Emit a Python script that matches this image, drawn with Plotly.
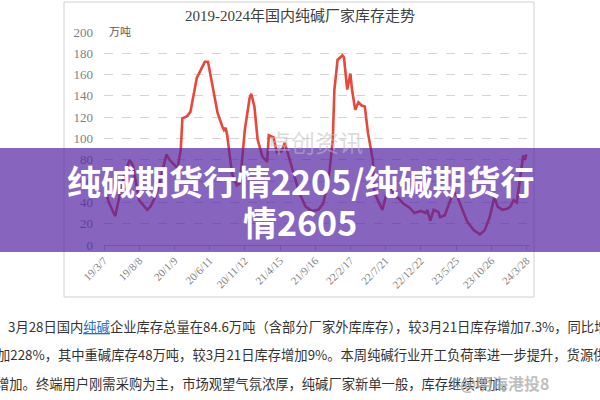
import plotly.graph_objects as go

# ---- data ----
tick_labels = ["19/3/7", "19/8/8", "20/1/9", "20/6/11", "20/11/12", "21/4/15", "21/9/16",
               "22/2/17", "22/7/21", "22/12/22", "23/5/25", "23/10/26", "24/3/28"]
tick_weeks = [0, 22, 44, 66, 88, 110, 132, 154, 176, 198, 220, 242, 264]

# week index since 2019-03-07 and factory inventory (10k tonnes)
weeks = [0, 3, 7, 9, 12, 16, 18, 22, 27, 29, 32, 35, 39, 41, 46, 48, 49, 52, 54, 58, 60, 63, 65,
         68, 71, 74, 75, 76, 77, 80, 83, 85, 88, 91, 92, 94, 96, 99, 102, 103, 106, 108, 111,
         113, 115, 118, 122, 126, 130, 134, 137, 139, 141, 143, 144, 146, 149, 150, 152, 154,
         155, 157, 159, 161, 163, 165, 168, 169, 171, 174, 176, 178, 180, 182, 184, 187, 191,
         194, 198, 201, 202, 204, 206, 209, 210, 213, 215, 217, 219, 221, 224, 227, 231, 235,
         238, 241, 244, 246, 249, 252, 254, 256, 258, 260, 262, 263, 264]
inventory = [57, 40, 27, 40, 62, 80, 75, 42, 33, 36, 45, 60, 85, 80, 72, 90, 119, 121, 125, 157,
             163, 172, 172, 148, 124, 111, 108, 110, 103, 67, 56, 58, 108, 138, 142, 130, 99, 83,
             78, 103, 101, 87, 88, 96, 86, 70, 49, 36, 32, 33, 39, 52, 70, 99, 146, 174, 178, 176,
             146, 161, 146, 127, 134, 131, 130, 105, 80, 49, 42, 33, 45, 55, 52, 45, 44, 39, 35,
             30, 32, 30, 33, 23, 33, 31, 26, 28, 36, 44, 49, 45, 33, 22, 14, 10, 14, 26, 45, 36,
             33, 34, 36, 42, 40, 61, 84, 80, 85]

# ---- pixel -> paper helpers (plot area 104..530 x 32..245) ----
L, R, T, B = 104, 530, 32, 245
def px(x):
    return (x - L) / (R - L)
def py(y):
    return (B - y) / (B - T)

fig = go.Figure()
fig.add_trace(go.Scatter(x=weeks, y=inventory, mode="lines",
                         line=dict(color="#e8483a", width=2.6), hoverinfo="skip",
                         showlegend=False))

serif = "Liberation Serif, Noto Sans CJK SC"
cjk = "Noto Sans CJK SC"

fig.update_layout(
    width=600, height=400, autosize=False,
    margin=dict(l=L, r=600 - R, t=T, b=400 - B),
    paper_bgcolor="white", plot_bgcolor="white",
    xaxis=dict(range=[0, 266.25], tickmode="array", tickvals=tick_weeks, ticktext=tick_labels,
               tickangle=-45, tickfont=dict(family=serif, size=11, color="#7f7f7f"),
               showgrid=False, zeroline=False, showline=True, linecolor="#bfbfbf",
               ticks="outside", ticklen=4, tickcolor="#bfbfbf"),
    yaxis=dict(range=[0, 200], dtick=20, tickfont=dict(family=serif, size=13, color="#7f7f7f"),
               showgrid=True, gridcolor="#d4d4d4", griddash="dash", gridwidth=1,
               zeroline=False, showline=False, ticklabelstandoff=10),
)

shapes = [
    # chart frame
    dict(type="rect", xref="paper", yref="paper", x0=px(64), x1=px(534), y0=py(297), y1=py(2),
         line=dict(color="#d0d0d0", width=1), fillcolor="rgba(0,0,0,0)", layer="below"),
    # purple band
    dict(type="rect", xref="paper", yref="paper", x0=px(-5), x1=px(605), y0=py(252), y1=py(148),
         line=dict(width=0), fillcolor="rgba(84,36,164,0.7)", layer="above"),
]
fig.update_layout(shapes=shapes)

ann = []
ann.append(dict(text="2019-2024年国内纯碱厂家库存走势", x=px(300), y=py(16), xref="paper", yref="paper",
                showarrow=False, xanchor="center", yanchor="middle",
                font=dict(family=serif, size=15, color="#404040")))
ann.append(dict(text="万吨", x=px(120), y=py(32), xref="paper", yref="paper", showarrow=False,
                xanchor="center", yanchor="middle", bgcolor="white",
                font=dict(family=serif, size=11, color="#595959")))
ann.append(dict(text="卓创资讯", x=px(315), y=py(141), xref="paper", yref="paper", showarrow=False,
                xanchor="center", yanchor="middle",
                font=dict(family=cjk, size=24, color="rgba(190,190,190,0.55)")))
# band title
ann.append(dict(text="<b>纯碱期货行情2205/纯碱期货行</b>", x=px(300), y=py(180), xref="paper", yref="paper",
                showarrow=False, xanchor="center", yanchor="middle",
                font=dict(family=cjk, size=34, color="white")))
ann.append(dict(text="<b>情2605</b>", x=px(300), y=py(221), xref="paper", yref="paper",
                showarrow=False, xanchor="center", yanchor="middle",
                font=dict(family=cjk, size=34, color="white")))
# article text below
body_font = dict(family=cjk, size=13.3, color="#333333")
ann.append(dict(text="3月28日国内<span style='color:#2f6fc0'><u>纯碱</u></span>企业库存总量在84.6万吨（含部分厂家外库库存），较3月21日库存增加7.3%，同比增长",
                x=px(6), y=py(326), xref="paper", yref="paper", showarrow=False,
                xanchor="left", yanchor="middle", font=body_font))
ann.append(dict(text="加228%，其中重碱库存48万吨，较3月21日库存增加9%。本周纯碱行业开工负荷率进一步提升，货源供应",
                x=px(-5), y=py(354), xref="paper", yref="paper", showarrow=False,
                xanchor="left", yanchor="middle", font=body_font))
ann.append(dict(text="增加。终端用户刚需采购为主，市场观望气氛浓厚，纯碱厂家新单一般，库存继续增加。",
                x=px(-6), y=py(383), xref="paper", yref="paper", showarrow=False,
                xanchor="left", yanchor="middle", font=body_font))
ann.append(dict(text="<b>@明海港投8</b>", x=px(458), y=py(383), xref="paper", yref="paper", showarrow=False,
                xanchor="left", yanchor="middle",
                font=dict(family=cjk, size=16, color="rgba(170,170,170,0.75)")))
fig.update_layout(annotations=ann)

fig.write_html("out.html", config={"displayModeBar": False},
               post_script="document.body.style.margin='0';")
